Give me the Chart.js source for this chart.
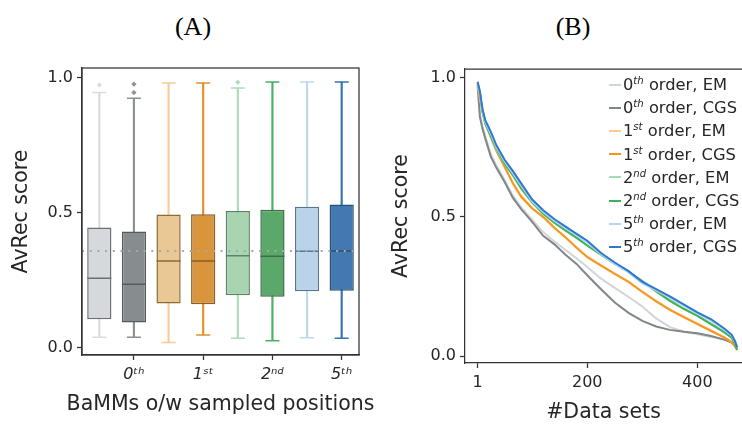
<!DOCTYPE html>
<html>
<head>
<meta charset="utf-8">
<script src="https://cdn.jsdelivr.net/npm/chart.js@4.4.1/dist/chart.umd.min.js"></script>
<style>
  body { margin: 0; background: #fff; }
  #wrap { position: relative; width: 742px; height: 425px; overflow: hidden; font-family: 'DejaVu Sans'; color: #262626; }
  .box { position: absolute; top: 0; height: 425px; }
  .panel { position: absolute; font-family: 'Liberation Serif'; font-size: 26px; line-height: 1; color: #000; transform: translate(-50%, -50%); }
  #legendB { position: absolute; left: 609px; top: 73px; font-size: 16.3px; }
  .item { height: 23.2px; display: flex; align-items: center; white-space: nowrap; }
  .swatch { display: inline-block; width: 12px; height: 2px; margin-right: 2px; }
  sup { font-size: 0.62em; font-style: italic; vertical-align: 0.6em; line-height: 0; }
</style>
</head>
<body>
<div id="wrap">
  <div class="panel" style="left:193px; top:27px;">(A)</div>
  <div class="panel" style="left:573px; top:27px;">(B)</div>
  <div class="box" style="left:0; width:390px;"><canvas id="boxA"></canvas></div>
  <div class="box" style="left:371px; width:371px;"><canvas id="lineB"></canvas></div>
  <div id="legendB"></div>
</div>
<script>
// ---- panel A: box plot stats ----
const boxNames = ['0th order, EM', '0th order, CGS', '1st order, EM', '1st order, CGS',
                  '2nd order, EM', '2nd order, CGS', '5th order, EM', '5th order, CGS'];
const boxTickLabels = ['', '0ᵗʰ', '', '1ˢᵗ', '', '2ⁿᵈ', '', '5ᵗʰ'];
const whiskerLow  = [0.040, 0.040, 0.020, 0.048, 0.036, 0.027, 0.038, 0.036];
const quartile1   = [0.106, 0.094, 0.165, 0.162, 0.195, 0.190, 0.210, 0.212];
const medians     = [0.258, 0.236, 0.322, 0.322, 0.342, 0.340, 0.358, 0.359];
const quartile3   = [0.446, 0.431, 0.494, 0.495, 0.507, 0.512, 0.523, 0.531];
const whiskerHigh = [0.946, 0.925, 0.981, 0.981, 0.963, 0.985, 0.985, 0.985];
const outliers = [[0, 0.974], [1, 0.977], [1, 0.946], [4, 0.984]];
const overallMedian = 0.359;
const scoreTicks = [0, 0.5, 1];
const xTitleA = 'BaMMs o/w sampled positions';

// ---- panel B: sorted AvRec curves ----
const seriesNames = boxNames;
const dataSetRank = [1, 5, 10, 15, 25, 35, 50, 65, 80, 100, 120, 140, 160, 180, 200, 225,
                     250, 275, 300, 325, 350, 375, 400, 425, 450, 462, 468, 472];
const em0  = [0.975, 0.870, 0.820, 0.790, 0.725, 0.685, 0.632, 0.576, 0.535, 0.490, 0.445, 0.412, 0.382, 0.352,
              0.320, 0.278, 0.245, 0.212, 0.178, 0.135, 0.104, 0.088, 0.078, 0.068, 0.058, 0.050, 0.042, 0.036];
const cgs0 = [0.970, 0.860, 0.815, 0.780, 0.715, 0.676, 0.625, 0.568, 0.528, 0.482, 0.432, 0.402, 0.365, 0.332,
              0.290, 0.240, 0.192, 0.155, 0.126, 0.106, 0.094, 0.087, 0.082, 0.072, 0.058, 0.048, 0.040, 0.033];
const em1  = [0.972, 0.925, 0.878, 0.836, 0.783, 0.735, 0.678, 0.622, 0.575, 0.532, 0.498, 0.460, 0.426, 0.392,
              0.357, 0.326, 0.296, 0.268, 0.232, 0.198, 0.168, 0.142, 0.117, 0.092, 0.066, 0.050, 0.034, 0.020];
const cgs1 = [0.975, 0.930, 0.880, 0.840, 0.785, 0.738, 0.680, 0.620, 0.572, 0.530, 0.500, 0.462, 0.428, 0.390,
              0.355, 0.325, 0.295, 0.266, 0.230, 0.196, 0.166, 0.140, 0.115, 0.090, 0.065, 0.050, 0.036, 0.025];
const em2  = [0.978, 0.942, 0.872, 0.832, 0.788, 0.743, 0.690, 0.648, 0.600, 0.550, 0.509, 0.478, 0.450, 0.424,
              0.396, 0.364, 0.332, 0.304, 0.270, 0.236, 0.203, 0.172, 0.146, 0.117, 0.086, 0.068, 0.048, 0.030];
const cgs2 = [0.980, 0.945, 0.875, 0.835, 0.790, 0.745, 0.692, 0.650, 0.603, 0.553, 0.512, 0.480, 0.452, 0.426,
              0.397, 0.364, 0.331, 0.302, 0.268, 0.232, 0.198, 0.169, 0.144, 0.114, 0.084, 0.066, 0.045, 0.022];
const em5  = [0.982, 0.945, 0.880, 0.840, 0.798, 0.750, 0.699, 0.657, 0.613, 0.556, 0.517, 0.486, 0.460, 0.434,
              0.408, 0.366, 0.331, 0.300, 0.261, 0.236, 0.210, 0.182, 0.153, 0.127, 0.093, 0.074, 0.052, 0.034];
const cgs5 = [0.985, 0.951, 0.885, 0.846, 0.805, 0.757, 0.705, 0.664, 0.620, 0.562, 0.524, 0.492, 0.466, 0.440,
              0.414, 0.370, 0.336, 0.305, 0.266, 0.240, 0.214, 0.186, 0.157, 0.132, 0.097, 0.077, 0.055, 0.032];
const rankTicks = [1, 200, 400];

// colours
const boxFill  = ['#d5d9dc', '#878c8f', '#eac896', '#d8953b', '#a8d4b1', '#5aa96b', '#b9d3eb', '#4379b1'];
const boxEdge  = ['#6d7072', '#555a5c', '#8b6a34', '#87602a', '#5b8563', '#3d6e47', '#5b7590', '#2c4f75'];
const whiskerColors = ['#d9dbdd', '#8c9196', '#f5cd96', '#e0912a', '#acdcb8', '#4caf63', '#c0d8ef', '#3572b5'];
const lineColors = ['#d0d5d9', '#80868a', '#fcca90', '#f7961e', '#a6dbb2', '#3db25a', '#b9d6f2', '#2f78cf'];

const textColor = '#262626';
const spineColor = '#333';
const tickFont = { family: 'DejaVu Sans', size: 16 };
const titleFont = { family: 'DejaVu Sans', size: 20.5 };

// dotted overall-median line, full frame, and the wide x title (wider than the axis)
const boxOverlay = {
  id: 'boxOverlay',
  afterDatasetsDraw(chart) {
    const { ctx, chartArea: a, scales: { y } } = chart;
    const py = y.getPixelForValue(overallMedian);
    ctx.save();
    ctx.strokeStyle = '#a8a8a8';
    ctx.lineWidth = 2;
    ctx.setLineDash([2, 5.7]);
    ctx.beginPath();
    ctx.moveTo(a.left, py);
    ctx.lineTo(a.right, py);
    ctx.stroke();
    ctx.setLineDash([]);
    ctx.strokeStyle = spineColor;
    ctx.lineWidth = 1.25;
    ctx.strokeRect(a.left, a.top, a.right - a.left, a.bottom - a.top);
    ctx.restore();
  },
  afterDraw(chart) {
    const { ctx, scales: { x } } = chart;
    ctx.save();
    ctx.font = `${titleFont.size}px '${titleFont.family}'`;
    ctx.fillStyle = textColor;
    ctx.textAlign = 'center';
    ctx.textBaseline = 'middle';
    ctx.fillText(xTitleA, (x.left + x.right) / 2, x.bottom - 20);
    ctx.restore();
  }
};

new Chart(document.getElementById('boxA'), {
  type: 'bar',
  data: {
    labels: boxNames,
    datasets: [
      {
        type: 'bar',
        data: whiskerLow.map((v, i) => [v, whiskerHigh[i]]),
        backgroundColor: whiskerColors,
        barThickness: 1.5,
        grouped: false,
        order: 4
      },
      {
        type: 'bar',
        data: quartile1.map((v, i) => [v, quartile3[i]]),
        backgroundColor: boxFill,
        borderColor: boxEdge,
        borderWidth: 1.5,
        borderSkipped: false,
        barPercentage: 0.7,
        categoryPercentage: 1,
        grouped: false,
        order: 3
      },
      {
        type: 'line',
        showLine: false,
        data: whiskerLow.map((v, i) => ({ x: boxNames[i], y: v }))
          .concat(whiskerHigh.map((v, i) => ({ x: boxNames[i], y: v }))),
        pointStyle: 'line',
        pointRadius: 7,
        pointBorderWidth: 1.5,
        pointBorderColor: whiskerColors.concat(whiskerColors),
        order: 2
      },
      {
        type: 'line',
        showLine: false,
        data: medians,
        pointStyle: 'line',
        pointRadius: 12,
        pointBorderWidth: 1.5,
        pointBorderColor: boxEdge,
        order: 1
      },
      {
        type: 'line',
        showLine: false,
        data: outliers.map(([i, v]) => ({ x: boxNames[i], y: v })),
        pointStyle: 'rectRot',
        pointRadius: 2.6,
        pointBorderWidth: 0,
        pointBackgroundColor: outliers.map(([i]) => whiskerColors[i]),
        order: 1
      }
    ]
  },
  options: {
    responsive: true,
    maintainAspectRatio: false,
    animation: false,
    events: [],
    layout: { padding: { top: 68, right: 31, bottom: 0, left: 0 } },
    plugins: { legend: { display: false }, tooltip: { enabled: false } },
    scales: {
      x: {
        type: 'category',
        offset: true,
        afterFit: (s) => { s.height = 70; },
        grid: {
          offset: false,
          drawOnChartArea: false,
          tickLength: 5,
          tickWidth: 1.25,
          color: (c) => (c.index % 2 ? spineColor : 'rgba(0,0,0,0)')
        },
        border: { color: spineColor, width: 1.25 },
        ticks: {
          autoSkip: false,
          maxRotation: 0,
          padding: 5,
          color: textColor,
          font: { ...tickFont, style: 'italic' },
          callback: (v, i) => boxTickLabels[i]
        }
      },
      y: {
        min: -0.026,
        max: 1.037,
        afterFit: (s) => { s.width = 82; },
        afterBuildTicks: (s) => { s.ticks = scoreTicks.map((v) => ({ value: v })); },
        grid: { drawOnChartArea: false, tickLength: 5, tickWidth: 1.25, color: spineColor },
        border: { color: spineColor, width: 1.25 },
        ticks: { padding: 4, color: textColor, font: tickFont, callback: (v) => v.toFixed(1) },
        title: {
          display: true,
          text: 'AvRec score',
          color: textColor,
          font: titleFont,
          padding: { top: 9, bottom: 0 }
        }
      }
    }
  },
  plugins: [boxOverlay]
});

// ---- panel B ----
const seriesValues = [em0, cgs0, em1, cgs1, em2, cgs2, em5, cgs5];

const topSpine = {
  id: 'topSpine',
  afterDraw(chart) {
    const { ctx, chartArea: a } = chart;
    ctx.save();
    ctx.strokeStyle = spineColor;
    ctx.lineWidth = 1.25;
    ctx.beginPath();
    ctx.moveTo(a.left, a.top);
    ctx.lineTo(a.right, a.top);
    ctx.stroke();
    ctx.restore();
  }
};

new Chart(document.getElementById('lineB'), {
  type: 'line',
  data: {
    datasets: seriesValues.map((vals, i) => ({
      label: seriesNames[i],
      data: dataSetRank.map((r, j) => ({ x: r, y: vals[j] })),
      borderColor: lineColors[i],
      borderWidth: 2,
      pointRadius: 0,
      fill: false,
      order: seriesValues.length - i
    }))
  },
  options: {
    responsive: true,
    maintainAspectRatio: false,
    animation: false,
    events: [],
    layout: { padding: { top: 69, right: 0, bottom: 0, left: 0 } },
    plugins: { legend: { display: false }, tooltip: { enabled: false } },
    scales: {
      x: {
        type: 'linear',
        min: -22,
        max: 481,
        afterFit: (s) => { s.height = 62; },
        afterBuildTicks: (s) => { s.ticks = rankTicks.map((v) => ({ value: v })); },
        grid: { drawOnChartArea: false, tickLength: 5, tickWidth: 1.25, color: spineColor },
        border: { color: spineColor, width: 1.25 },
        ticks: { padding: 5, color: textColor, font: tickFont, callback: (v) => String(v) },
        title: {
          display: true,
          text: '#Data sets',
          color: textColor,
          font: titleFont,
          padding: { top: 0, bottom: 0 }
        }
      },
      y: {
        min: -0.025,
        max: 1.031,
        afterFit: (s) => { s.width = 94; },
        afterBuildTicks: (s) => { s.ticks = scoreTicks.map((v) => ({ value: v })); },
        grid: { drawOnChartArea: false, tickLength: 5, tickWidth: 1.25, color: spineColor },
        border: { color: spineColor, width: 1.25 },
        ticks: { padding: 4, color: textColor, font: tickFont, callback: (v) => v.toFixed(1) },
        title: {
          display: true,
          text: 'AvRec score',
          color: textColor,
          font: titleFont,
          padding: { top: 18, bottom: 0 }
        }
      }
    }
  },
  plugins: [topSpine]
});

// legend for panel B, built from the same series
const legendBox = document.getElementById('legendB');
seriesNames.forEach((name, i) => {
  const row = document.createElement('div');
  row.className = 'item';
  const sw = document.createElement('span');
  sw.className = 'swatch';
  sw.style.background = lineColors[i];
  const label = document.createElement('span');
  label.innerHTML = name.replace(/^(\d)(th|st|nd)/, '$1<sup>$2</sup>');
  row.append(sw, label);
  legendBox.append(row);
});
</script>
</body>
</html>
